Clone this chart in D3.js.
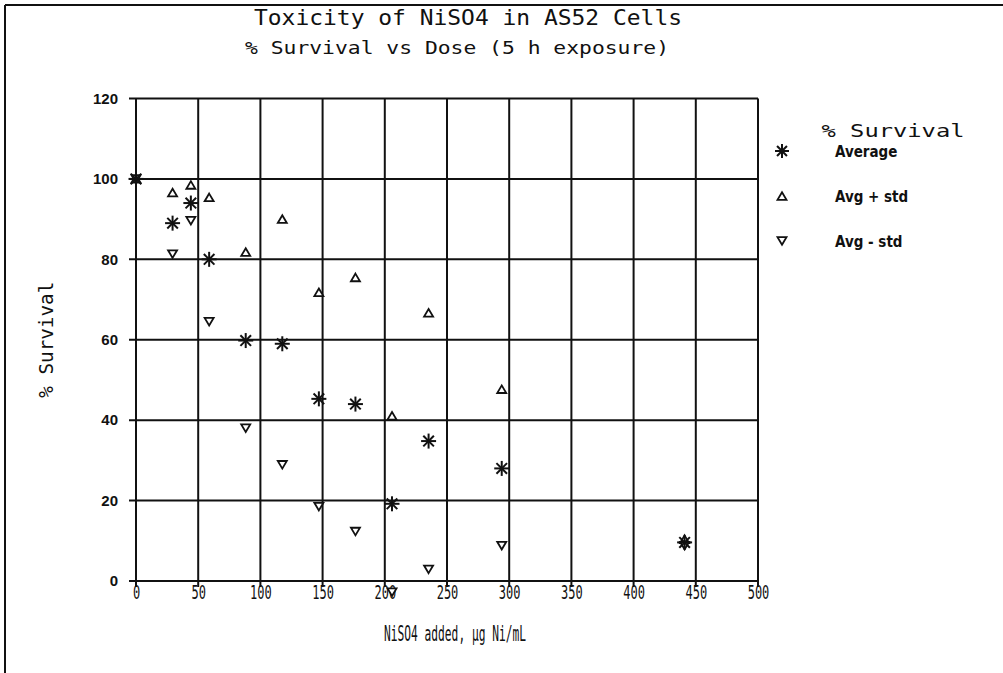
<!DOCTYPE html>
<html>
<head>
<meta charset="utf-8">
<script src="https://cdn.jsdelivr.net/npm/d3@7/dist/d3.min.js"></script>
<style>
  html, body { margin: 0; padding: 0; background: #fff; }
  svg { display: block; }
</style>
</head>
<body>
<svg id="chart" width="1003" height="673"></svg>
<script>
// NiSO4 dose (µg Ni/mL) and % survival of AS52 cells after 5 h exposure
const doses      = [0, 29.4, 44.1, 58.8, 88.2, 117.6, 147, 176.4, 205.8, 235.2, 294, 441];
const average    = [100, 89, 94, 80, 59.8, 59, 45.3, 44, 19.2, 34.8, 28, 9.6];
const avgPlusStd = [100, 96.6, 98.5, 95.4, 81.8, 90, 71.8, 75.5, 41.1, 66.7, 47.7, 10.4];
const avgMinusStd= [100, 81.3, 89.6, 64.5, 38, 28.9, 18.5, 12.3, -2.8, 2.9, 8.8, 8.8];

const xTicks = [0, 50, 100, 150, 200, 250, 300, 350, 400, 450, 500];
const yTicks = [0, 20, 40, 60, 80, 100, 120];

const legendTitle = "% Survival";
const legendItems = ["Average", "Avg + std", "Avg - std"];

const svg = d3.select("#chart");
const ink = "#111";

const x = d3.scaleLinear().domain([0, 500]).range([136, 758]);
const y = d3.scaleLinear().domain([0, 120]).range([581, 98.5]);

// outer frame (left and top edges)
svg.append("line").attr("x1", 5).attr("x2", 5).attr("y1", 5).attr("y2", 673)
  .attr("stroke", ink).attr("stroke-width", 2);
svg.append("line").attr("x1", 5).attr("x2", 1003).attr("y1", 5).attr("y2", 5)
  .attr("stroke", ink).attr("stroke-width", 2);

// titles
const monoFont = "'DejaVu Sans Mono', 'Liberation Mono', monospace";
svg.append("text").attr("x", 468).attr("y", 25)
  .attr("text-anchor", "middle").attr("font-family", monoFont)
  .attr("font-size", 21).attr("fill", ink)
  .attr("textLength", 428).attr("lengthAdjust", "spacingAndGlyphs")
  .text("Toxicity of NiSO4 in AS52 Cells");
svg.append("text").attr("x", 457).attr("y", 54)
  .attr("text-anchor", "middle").attr("font-family", monoFont)
  .attr("font-size", 18).attr("fill", ink)
  .attr("textLength", 424).attr("lengthAdjust", "spacingAndGlyphs")
  .text("% Survival vs Dose (5 h exposure)");

// grid
const grid = svg.append("g").attr("stroke", ink).attr("stroke-width", 2);
grid.selectAll("line.v").data(xTicks).join("line")
  .attr("x1", d => x(d)).attr("x2", d => x(d))
  .attr("y1", y(120)).attr("y2", y(0) + 6);
grid.selectAll("line.h").data(yTicks).join("line")
  .attr("x1", x(0) - 7).attr("x2", x(500))
  .attr("y1", d => y(d)).attr("y2", d => y(d));

// tick labels via d3 axes (axis lines hidden, text only)
const xAxis = svg.append("g").attr("transform", `translate(0,${y(0)})`)
  .call(d3.axisBottom(x).tickValues(xTicks).tickSize(0).tickPadding(0));
xAxis.select(".domain").remove();
xAxis.selectAll("text").attr("font-family", monoFont).attr("font-size", 16)
  .attr("fill", ink).attr("y", 0).attr("dy", 0)
  .attr("transform", "translate(0,18) scale(0.75,1.25)");

const yAxis = svg.append("g").attr("transform", `translate(${x(0)},0)`)
  .call(d3.axisLeft(y).tickValues(yTicks).tickSize(0).tickPadding(18));
yAxis.select(".domain").remove();
yAxis.selectAll("text").attr("font-family", "'Liberation Sans', Arial, sans-serif")
  .attr("font-size", 15).attr("font-weight", "bold").attr("fill", ink);

// axis titles
svg.append("text").attr("x", 455).attr("y", 641)
  .attr("text-anchor", "middle").attr("font-family", monoFont)
  .attr("font-size", 21).attr("fill", ink)
  .attr("textLength", 142).attr("lengthAdjust", "spacingAndGlyphs")
  .text("NiSO4 added, µg Ni/mL");
svg.append("text")
  .attr("transform", `translate(53,${(y(0) + y(120)) / 2}) rotate(-90)`)
  .attr("text-anchor", "middle").attr("font-family", monoFont)
  .attr("font-size", 19).attr("fill", ink)
  .attr("textLength", 116).attr("lengthAdjust", "spacingAndGlyphs")
  .text("% Survival");

// marker builders
function asterisk(g, cx, cy, r) {
  [0, 45, 90, 135].forEach(a => {
    const rad = a * Math.PI / 180;
    g.append("line")
      .attr("x1", cx - r * Math.cos(rad)).attr("y1", cy - r * Math.sin(rad))
      .attr("x2", cx + r * Math.cos(rad)).attr("y2", cy + r * Math.sin(rad))
      .attr("stroke", ink).attr("stroke-width", 2);
  });
}
function triangle(g, cx, cy, up) {
  const s = 4.5, h = 3.8;
  const pts = up
    ? [[cx, cy - h], [cx + s, cy + h], [cx - s, cy + h]]
    : [[cx, cy + h], [cx + s, cy - h], [cx - s, cy - h]];
  g.append("polygon").attr("points", pts.map(p => p.join(",")).join(" "))
    .attr("fill", "#fff").attr("stroke", ink).attr("stroke-width", 1.8);
}

const marks = svg.append("g");
doses.forEach((d, i) => triangle(marks, x(d), y(avgPlusStd[i]), true));
doses.forEach((d, i) => triangle(marks, x(d), y(avgMinusStd[i]), false));
doses.forEach((d, i) => asterisk(marks, x(d), y(average[i]), 7.5));

// legend
svg.append("text").attr("x", 893).attr("y", 137)
  .attr("text-anchor", "middle").attr("font-family", monoFont)
  .attr("font-size", 18).attr("fill", ink)
  .attr("textLength", 143).attr("lengthAdjust", "spacingAndGlyphs")
  .text(legendTitle);
const legendY = [151, 196, 241];
const lg = svg.append("g");
asterisk(lg, 782, legendY[0], 7);
triangle(lg, 782, legendY[1], true);
triangle(lg, 782, legendY[2], false);
legendItems.forEach((t, i) => {
  lg.append("text").attr("x", 835).attr("y", legendY[i] + 6)
    .attr("font-family", "'DejaVu Sans Condensed', 'DejaVu Sans', sans-serif")
    .attr("font-size", 15).attr("font-weight", "bold").attr("fill", ink)
    .text(t);
});
</script>
</body>
</html>
